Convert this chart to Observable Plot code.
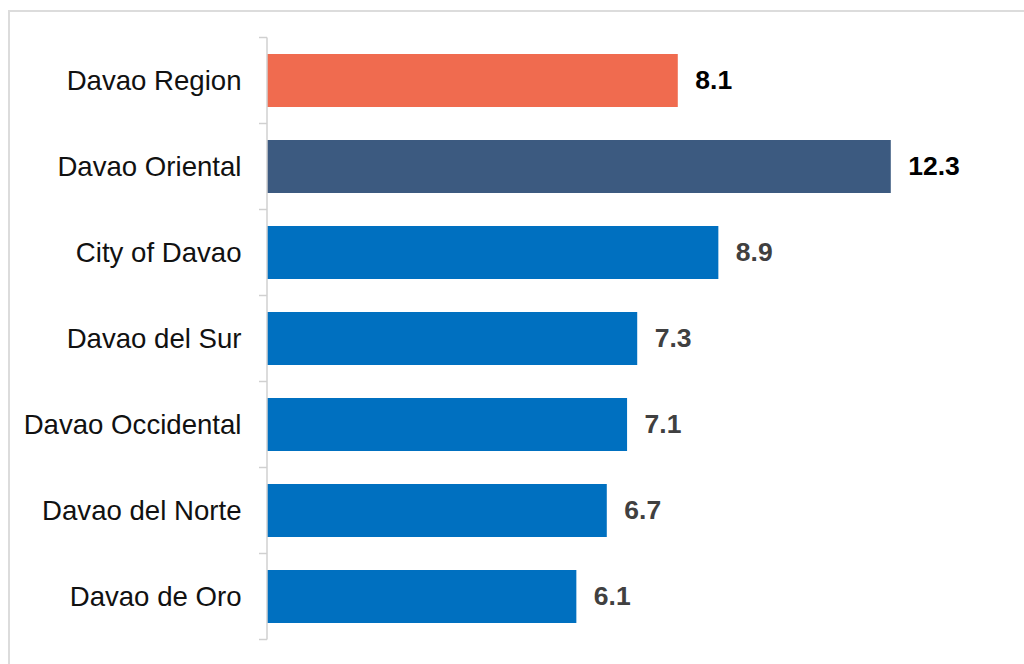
<!DOCTYPE html>
<html>
<head>
<meta charset="utf-8">
<script src="https://cdn.jsdelivr.net/npm/d3@7"></script>
<script src="https://cdn.jsdelivr.net/npm/@observablehq/plot@0.6"></script>
<style>
  html, body { margin: 0; padding: 0; background: #fff; overflow: hidden; }
  #wrap { position: relative; width: 1024px; height: 664px; overflow: hidden; }
  #frame { position: absolute; left: 8px; top: 10px; width: 1040px; height: 680px; border: 2px solid #dcdcdc; box-sizing: border-box; }
  #chart { position: absolute; left: 0; top: 0; }
</style>
</head>
<body>
<div id="wrap"><div id="frame"></div><div id="chart"></div></div>
<script>
const provinces = ["Davao Region", "Davao Oriental", "City of Davao", "Davao del Sur", "Davao Occidental", "Davao del Norte", "Davao de Oro"];
const values = [8.1, 12.3, 8.9, 7.3, 7.1, 6.7, 6.1];
const barColors = ["#F06B4F", "#3C5A80", "#0070C0", "#0070C0", "#0070C0", "#0070C0", "#0070C0"];
const labelColors = ["#000000", "#000000", "#404040", "#404040", "#404040", "#404040", "#404040"];

const data = provinces.map((p, i) => ({province: p, value: values[i], fill: barColors[i], labelColor: labelColors[i]}));

// boundary ticks on the y axis, placed using the band scale
function bandTicks(index, scales, values, dimensions) {
  const y = scales.y;
  const step = y.step();
  const g = d3.create("svg:g");
  const x0 = dimensions.marginLeft;
  const n = y.domain().length;
  const top = y(y.domain()[0]) - (step - y.bandwidth()) / 2;
  for (let i = 0; i <= n; i++) {
    const yy = top + i * step;
    g.append("line").attr("x1", x0 - 8).attr("x2", x0).attr("y1", yy).attr("y2", yy)
      .attr("stroke", "#d0d0d0").attr("stroke-width", 1.5);
  }
  g.append("line").attr("x1", x0).attr("x2", x0).attr("y1", top).attr("y2", top + n * step)
    .attr("stroke", "#d0d0d0").attr("stroke-width", 1.5);
  return g.node();
}

const chart = Plot.plot({
  width: 1024,
  height: 664,
  marginLeft: 267,
  marginRight: 47,
  marginTop: 35,
  marginBottom: 22,
  style: {fontFamily: "'Liberation Sans', Arial, Helvetica, sans-serif", background: "transparent"},
  x: {domain: [0, 14], axis: null},
  y: {domain: provinces, paddingInner: 0.385, paddingOuter: 0.1925, label: null},
  marks: [
    Plot.barX(data, {y: "province", x: "value", fill: "fill"}),
    Plot.text(data, {y: "province", x: "value", text: d => d.value.toFixed(1), textAnchor: "start", dx: 17, dy: 0,
      fill: "labelColor", fontSize: 26.5, fontWeight: "bold"}),
    Plot.axisY({tickSize: 0, tickPadding: 26, fontSize: 27.6, fill: "#111", label: null}),
    bandTicks
  ]
});
document.getElementById("chart").appendChild(chart);
</script>
</body>
</html>
